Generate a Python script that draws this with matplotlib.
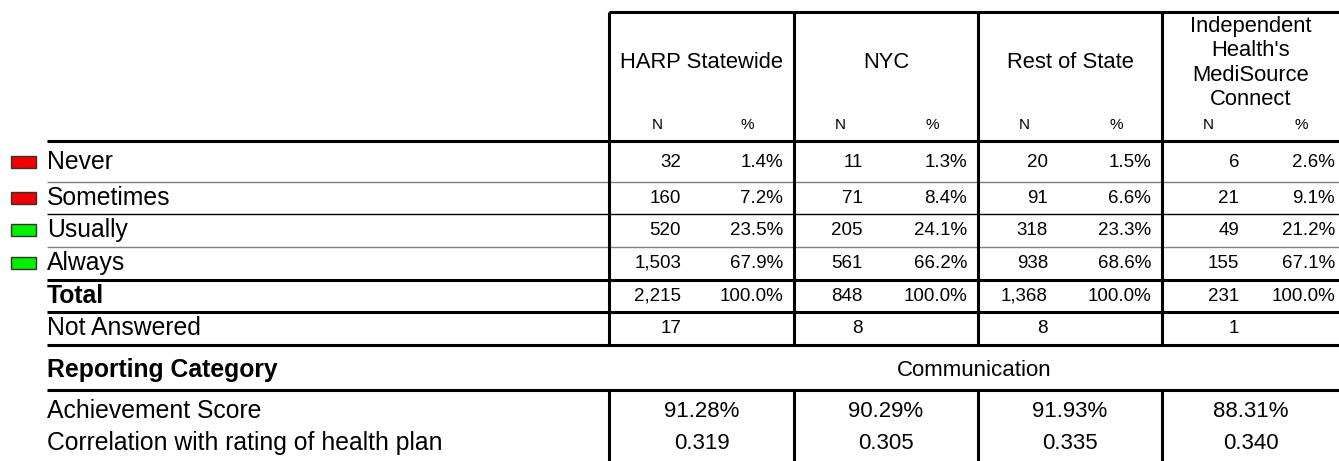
import matplotlib
matplotlib.use("Agg")
import matplotlib.pyplot as plt
from matplotlib.patches import Rectangle

plt.rcParams['font.family'] = ['Liberation Sans', 'DejaVu Sans']

# data
categories = ["Never", "Sometimes", "Usually", "Always"]
cat_colors = ["#f00000", "#f00000", "#00f000", "#00f000"]
groups = ["HARP Statewide", "NYC", "Rest of State", "Independent\nHealth's\nMediSource\nConnect"]
harp_n = [32, 160, 520, 1503]
harp_pct = [1.4, 7.2, 23.5, 67.9]
nyc_n = [11, 71, 205, 561]
nyc_pct = [1.3, 8.4, 24.1, 66.2]
ros_n = [20, 91, 318, 938]
ros_pct = [1.5, 6.6, 23.3, 68.6]
ihm_n = [6, 21, 49, 155]
ihm_pct = [2.6, 9.1, 21.2, 67.1]
totals = [2215, 848, 1368, 231]
not_answered = [17, 8, 8, 1]
reporting_category = "Communication"
achievement = [91.28, 90.29, 91.93, 88.31]
correlation = [0.319, 0.305, 0.335, 0.340]

all_n = [harp_n, nyc_n, ros_n, ihm_n]
all_pct = [harp_pct, nyc_pct, ros_pct, ihm_pct]

# layout (pixel coordinates, y downward)
W, H = 1339, 461
col_x = [609, 794, 978, 1162, W]
n_right = [72, 69, 70, 77]
pct_right = [11, 11, 11, 4]
n_head = [48, 46, 46, 46]
pct_head = [138, 138, 138, 139]
left = 47
row_y = [162, 198, 230, 263, 296, 328]
row_lines = [(182, 1.0, "#808080"), (214, 1.0, "#000000"), (247, 1.0, "#808080"),
             (280, 2.2, "#000000"), (312, 2.2, "#000000"), (345, 2.2, "#000000"),
             (390, 2.2, "#000000")]

fig = plt.figure(figsize=(W / 100, H / 100), dpi=100)
ax = fig.add_axes([0, 0, 1, 1])
ax.set_xlim(0, W)
ax.set_ylim(H, 0)
ax.axis("off")

LBL = 17.8
HEAD = 15.8
VAL = 16
DAT = 13.5
SMALL = 11

# grid lines
ax.plot([col_x[0], W], [12, 12], color="black", lw=2.2, solid_capstyle="butt")
ax.plot([left, W], [141, 141], color="black", lw=2.2, solid_capstyle="butt")
for y, lw, c in row_lines:
    ax.plot([left, W], [y, y], color=c, lw=lw, solid_capstyle="butt")
for x in col_x[:-1]:
    ax.plot([x, x], [12, 345], color="black", lw=2.2, solid_capstyle="butt")
    ax.plot([x, x], [390, H], color="black", lw=2.2, solid_capstyle="butt")

# column headers
for i, g in enumerate(groups):
    cx = (col_x[i] + col_x[i + 1]) / 2
    ax.text(cx, 63, g, ha="center", va="center", fontsize=HEAD, linespacing=1.2)
    ax.text(col_x[i] + n_head[i], 125, "N", ha="center", va="center", fontsize=SMALL)
    ax.text(col_x[i] + pct_head[i], 125, "%", ha="center", va="center", fontsize=SMALL)

# category rows
for r, cat in enumerate(categories):
    y = row_y[r]
    ax.add_patch(Rectangle((11, y - 6), 25, 12, facecolor=cat_colors[r],
                           edgecolor="#333333", lw=1))
    ax.text(left, y, cat, ha="left", va="center", fontsize=LBL)
    for i in range(4):
        ax.text(col_x[i] + n_right[i], y, f"{all_n[i][r]:,}", ha="right", va="center", fontsize=DAT)
        ax.text(col_x[i + 1] - pct_right[i], y, f"{all_pct[i][r]:.1f}%", ha="right",
                va="center", fontsize=DAT)

# total and not answered
ax.text(left, row_y[4], "Total", ha="left", va="center", fontsize=LBL, fontweight="bold")
ax.text(left, row_y[5], "Not Answered", ha="left", va="center", fontsize=LBL)
for i in range(4):
    ax.text(col_x[i] + n_right[i], row_y[4], f"{totals[i]:,}", ha="right", va="center", fontsize=DAT)
    ax.text(col_x[i + 1] - pct_right[i], row_y[4], "100.0%", ha="right", va="center", fontsize=DAT)
    ax.text(col_x[i] + n_right[i], row_y[5], f"{not_answered[i]:,}", ha="right", va="center", fontsize=DAT)

# reporting category section
ax.text(left, 370, "Reporting Category", ha="left", va="center", fontsize=LBL, fontweight="bold")
ax.text((col_x[0] + W) / 2, 370, reporting_category, ha="center", va="center", fontsize=VAL)
ax.text(left, 411, "Achievement Score", ha="left", va="center", fontsize=LBL)
ax.text(left, 443, "Correlation with rating of health plan", ha="left", va="center", fontsize=LBL)
for i in range(4):
    cx = (col_x[i] + col_x[i + 1]) / 2
    ax.text(cx, 411, f"{achievement[i]:.2f}%", ha="center", va="center", fontsize=VAL)
    ax.text(cx, 443, f"{correlation[i]:.3f}", ha="center", va="center", fontsize=VAL)

fig.savefig("out.png", dpi=100, facecolor="white")
